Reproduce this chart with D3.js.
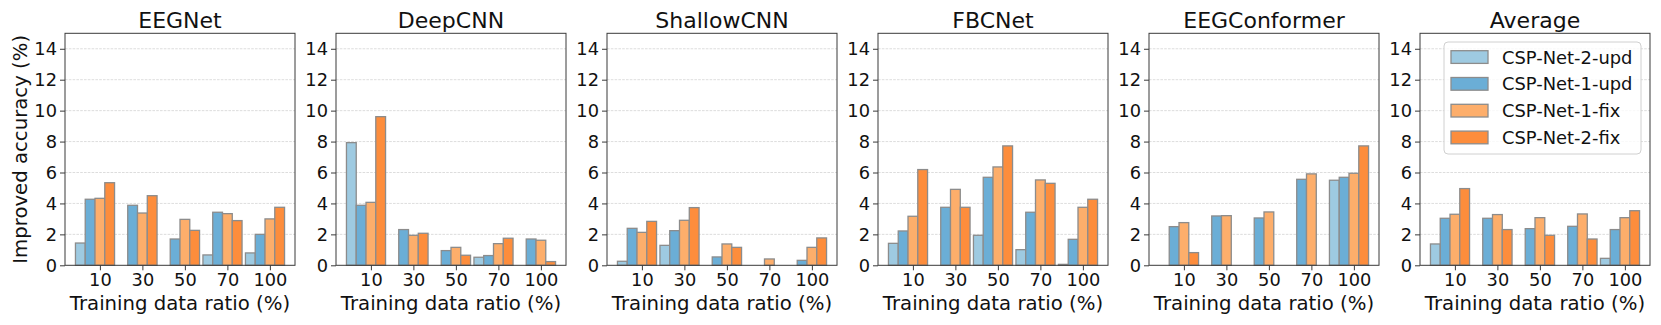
<!DOCTYPE html>
<html>
<head>
<meta charset="utf-8">
<script src="https://cdn.jsdelivr.net/npm/d3@7"></script>
<style>
  html, body { margin: 0; padding: 0; background: #fff; }
  svg { display: block; font-family: "DejaVu Sans", sans-serif; }
</style>
</head>
<body>
<svg id="chart" width="1661" height="325"></svg>
<script>
// ---- data ----
const categories = ["10", "30", "50", "70", "100"];
const seriesNames = ["CSP-Net-2-upd", "CSP-Net-1-upd", "CSP-Net-1-fix", "CSP-Net-2-fix"];
const seriesColors = ["#9ecae1", "#6baed6", "#fdae6b", "#fd8d3c"];
const modelNames = ["EEGNet", "DeepCNN", "ShallowCNN", "FBCNet", "EEGConformer", "Average"];
const yTicks = [0, 2, 4, 6, 8, 10, 12, 14];

// each: [CSP-Net-2-upd, CSP-Net-1-upd, CSP-Net-1-fix, CSP-Net-2-fix] over categories
const eegnetValues = [
  [1.44, 0, 0, 0.67, 0.80],
  [4.27, 3.88, 1.70, 3.43, 2.00],
  [4.33, 3.38, 2.97, 3.34, 3.00],
  [5.34, 4.50, 2.26, 2.89, 3.75]
];
const deepcnnValues = [
  [7.93, 0, 0, 0.52, 0],
  [3.88, 2.31, 0.95, 0.63, 1.70],
  [4.07, 1.94, 1.16, 1.40, 1.62],
  [9.61, 2.07, 0.65, 1.75, 0.24]
];
const shallowcnnValues = [
  [0.26, 1.29, 0, 0, 0],
  [2.39, 2.24, 0.54, 0, 0.32],
  [2.13, 2.91, 1.38, 0.41, 1.16],
  [2.84, 3.73, 1.16, 0, 1.77]
];
const fbcnetValues = [
  [1.42, 0, 1.94, 1.01, 0.06],
  [2.22, 3.75, 5.69, 3.43, 1.68],
  [3.17, 4.91, 6.36, 5.52, 3.75],
  [6.19, 3.75, 7.72, 5.30, 4.27]
];
const eegconformerValues = [
  [0, 0, 0, 0, 5.50],
  [2.50, 3.19, 3.06, 5.56, 5.69],
  [2.76, 3.21, 3.45, 5.91, 5.95],
  [0.82, 0, 0, 0, 7.72]
];
const averageValues = [
  [1.38, 0, 0, 0, 0.45],
  [3.04, 3.04, 2.37, 2.52, 2.31],
  [3.30, 3.28, 3.08, 3.32, 3.08],
  [4.96, 2.31, 1.94, 1.70, 3.53]
];
const allValues = [eegnetValues, deepcnnValues, shallowcnnValues, fbcnetValues, eegconformerValues, averageValues];

// ---- layout ----
const svg = d3.select("#chart");
const panelLeft0 = 65, panelStep = 271, panelW = 230;
const panelTop = 33.3, panelBottom = 265.3;
const barW = 0.23;                // in category units
const span = 4 + 4 * barW;
const margin = 0.05 * span;
const xDomain = [-2.5 * barW - margin, 4 + 1.5 * barW + margin];

const y = d3.scaleLinear().domain([0, 15]).range([panelBottom, panelTop]);

modelNames.forEach((name, mi) => {
  const left = panelLeft0 + mi * panelStep;
  const x = d3.scaleLinear().domain(xDomain).range([left, left + panelW]);
  const g = svg.append("g");

  // grid
  g.selectAll("line.grid").data(yTicks.filter(t => t > 0)).enter().append("line")
    .attr("x1", left).attr("x2", left + panelW)
    .attr("y1", d => y(d)).attr("y2", d => y(d))
    .attr("stroke", "#d4d4d4").attr("stroke-width", 0.8)
    .attr("stroke-dasharray", "2.6,1.2");

  // bars
  const vals = allValues[mi];
  vals.forEach((series, si) => {
    g.selectAll(null).data(series.map((v, ci) => ({v, ci}))
        .filter(d => d.v > 0)).enter().append("rect")
      .attr("x", d => x(d.ci + (si - 2.5) * barW))
      .attr("width", d => x(d.ci + (si - 1.5) * barW) - x(d.ci + (si - 2.5) * barW))
      .attr("y", d => y(d.v))
      .attr("height", d => y(0) - y(d.v))
      .attr("fill", seriesColors[si])
      .attr("stroke", "#8c8c8c").attr("stroke-width", 1.3);
  });

  // frame
  g.append("rect").attr("x", left).attr("y", panelTop)
    .attr("width", panelW).attr("height", panelBottom - panelTop)
    .attr("fill", "none").attr("stroke", "#3a3a3a").attr("stroke-width", 1);

  // y axis
  const yAxis = d3.axisLeft(y).tickValues(yTicks).tickSize(5).tickPadding(3).tickFormat(d3.format("d"));
  const ya = g.append("g").attr("transform", `translate(${left},0)`).call(yAxis);
  ya.select(".domain").remove();
  ya.selectAll("line").attr("stroke", "#3a3a3a");
  ya.selectAll("text").attr("font-size", "17.8px").attr("fill", "#111")
    .attr("font-family", "DejaVu Sans");

  // x axis
  const xAxis = d3.axisBottom(x).tickValues(d3.range(categories.length))
    .tickFormat(i => categories[i]).tickSize(5).tickPadding(3);
  const xa = g.append("g").attr("transform", `translate(0,${panelBottom})`).call(xAxis);
  xa.select(".domain").remove();
  xa.selectAll("line").attr("stroke", "#3a3a3a");
  xa.selectAll("text").attr("font-size", "17.8px").attr("fill", "#111")
    .attr("font-family", "DejaVu Sans");

  // title
  g.append("text").attr("x", left + panelW / 2).attr("y", 27.5)
    .attr("text-anchor", "middle").attr("font-size", "22px").attr("fill", "#111")
    .text(name);

  // x label
  g.append("text").attr("x", left + panelW / 2).attr("y", 309.5)
    .attr("text-anchor", "middle").attr("font-size", "19.7px").attr("fill", "#111")
    .text("Training data ratio (%)");
});

// y label
svg.append("text")
  .attr("transform", `translate(27,${(panelTop + panelBottom) / 2}) rotate(-90)`)
  .attr("text-anchor", "middle").attr("font-size", "19.7px").attr("fill", "#111")
  .text("Improved accuracy (%)");

// legend
const lg = svg.append("g");
lg.append("rect").attr("x", 1444).attr("y", 42).attr("width", 197).attr("height", 112)
  .attr("rx", 4).attr("fill", "#fff").attr("fill-opacity", 0.8)
  .attr("stroke", "#d0d0d0").attr("stroke-width", 1);
seriesNames.forEach((s, i) => {
  const yy = 50.7 + i * 26.8;
  lg.append("rect").attr("x", 1451).attr("y", yy).attr("width", 37).attr("height", 12.7)
    .attr("fill", seriesColors[i]).attr("stroke", "#8c8c8c").attr("stroke-width", 1.3);
  lg.append("text").attr("x", 1502).attr("y", yy + 12.8)
    .attr("font-size", "17.9px").attr("fill", "#111").text(s);
});
</script>
</body>
</html>
